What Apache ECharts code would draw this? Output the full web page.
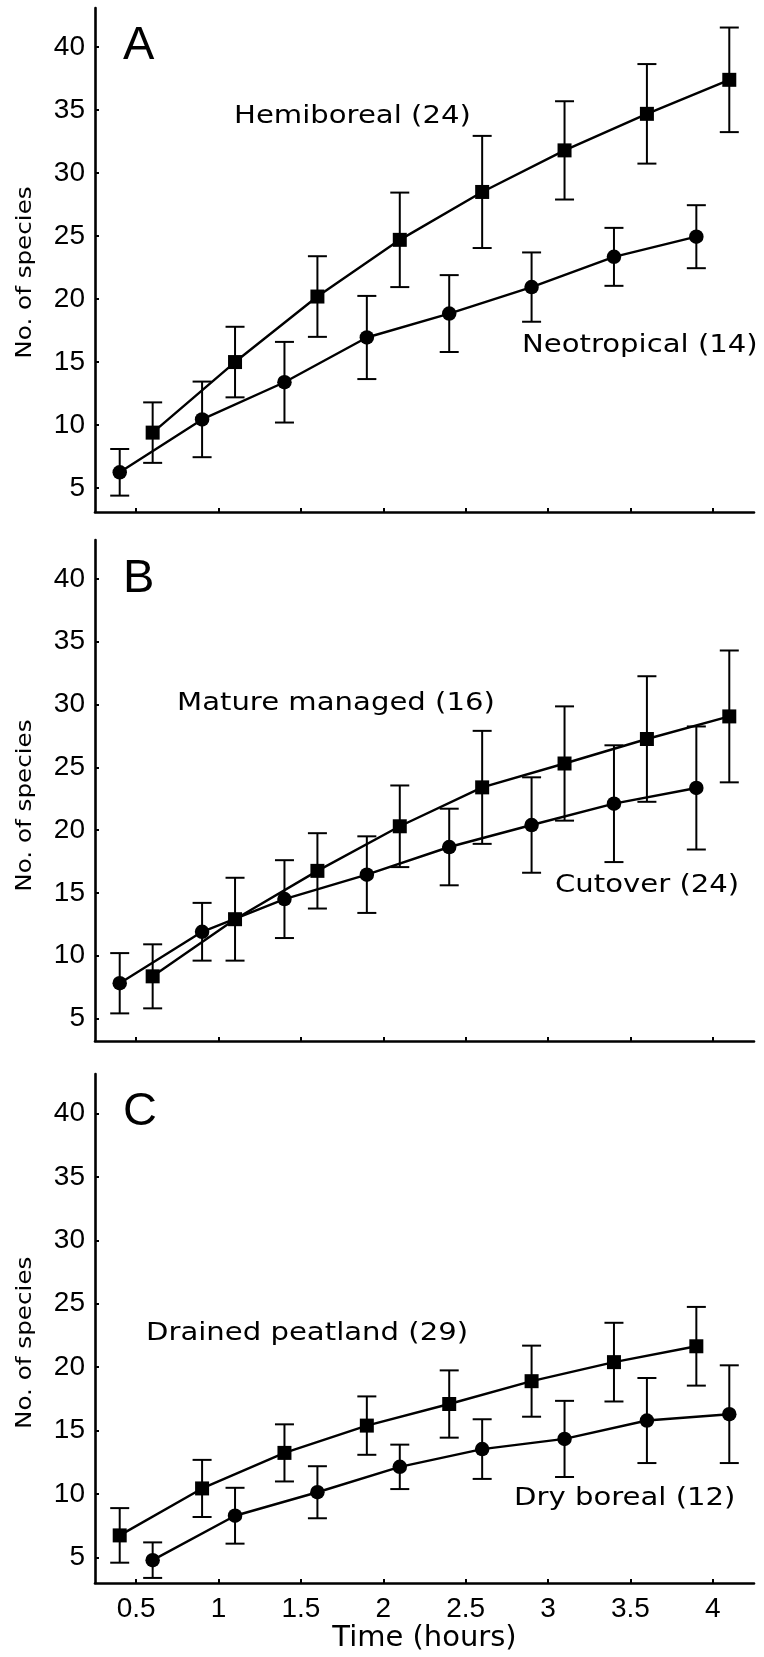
<!DOCTYPE html>
<html><head><meta charset="utf-8">
<script src="https://cdn.jsdelivr.net/npm/echarts@6/dist/echarts.min.js"></script>
<style>html,body{margin:0;padding:0;background:#fff}#c{width:764px;height:1657px}</style>
</head><body><div id="c"></div>
<script>
// ---------- DATA ----------
const xTicks = [0.5, 1, 1.5, 2, 2.5, 3, 3.5, 4];
const yTicks = [5, 10, 15, 20, 25, 30, 35, 40];

// Panel A
const timeHemiboreal = [0.6, 1.1, 1.6, 2.1, 2.6, 3.1, 3.6, 4.1];
const hemiboreal     = [9.4, 15.0, 20.2, 24.7, 28.5, 31.8, 34.7, 37.4];
const hemiborealErr  = [2.4, 2.8, 3.2, 3.75, 4.45, 3.9, 3.95, 4.15];
const timeNeotropical = [0.4, 0.9, 1.4, 1.9, 2.4, 2.9, 3.4, 3.9];
const neotropical     = [6.25, 10.45, 13.4, 16.95, 18.85, 20.95, 23.35, 24.95];
const neotropicalErr  = [1.85, 3.0, 3.2, 3.3, 3.05, 2.75, 2.3, 2.5];

// Panel B
const timeMature = [0.6, 1.1, 1.6, 2.1, 2.6, 3.1, 3.6, 4.1];
const mature     = [8.35, 12.9, 16.75, 20.3, 23.4, 25.3, 27.25, 29.05];
const matureErr  = [2.55, 3.3, 3.0, 3.25, 4.5, 4.55, 5.0, 5.25];
const timeCutover = [0.4, 0.9, 1.4, 1.9, 2.4, 2.9, 3.4, 3.9];
const cutover     = [7.8, 11.9, 14.5, 16.45, 18.65, 20.4, 22.1, 23.35];
const cutoverErr  = [2.4, 2.3, 3.1, 3.05, 3.05, 3.8, 4.65, 4.9];

// Panel C
const timeDrained = [0.4, 0.9, 1.4, 1.9, 2.4, 2.9, 3.4, 3.9];
const drained     = [6.75, 10.45, 13.25, 15.4, 17.1, 18.9, 20.4, 21.65];
const drainedErr  = [2.15, 2.25, 2.25, 2.3, 2.65, 2.8, 3.1, 3.1];
const timeDry = [0.6, 1.1, 1.6, 2.1, 2.6, 3.1, 3.6, 4.1];
const dry     = [4.8, 8.3, 10.15, 12.15, 13.55, 14.35, 15.8, 16.3];
const dryErr  = [1.4, 2.2, 2.05, 1.75, 2.35, 3.0, 3.35, 3.85];

const panelLetters = ['A', 'B', 'C'];
const labelsA = ['Hemiboreal (24)', 'Neotropical (14)'];
const labelsB = ['Mature managed (16)', 'Cutover (24)'];
const labelsC = ['Drained peatland (29)', 'Dry boreal (12)'];
const yName = 'No. of species';
const xName = 'Time (hours)';

// ---------- LAYOUT ----------
const panels = [
  { top: 8, height: 504, yMin: 3.1, letterY: 46.3, nameY: 272.5,
    curves: [
      { t: timeHemiboreal, v: hemiboreal, e: hemiborealErr, symbol: 'rect' },
      { t: timeNeotropical, v: neotropical, e: neotropicalErr, symbol: 'circle' }
    ],
    labels: [ { text: labelsA[0], x: 234, y: 116 }, { text: labelsA[1], x: 522, y: 345 } ] },
  { top: 540, height: 501, yMin: 3.2, letterY: 579, nameY: 805.6,
    curves: [
      { t: timeMature, v: mature, e: matureErr, symbol: 'rect' },
      { t: timeCutover, v: cutover, e: cutoverErr, symbol: 'circle' }
    ],
    labels: [ { text: labelsB[0], x: 177, y: 703 }, { text: labelsB[1], x: 555, y: 885 } ] },
  { top: 1074, height: 509, yMin: 3.0, letterY: 1112.5, nameY: 1342.8,
    curves: [
      { t: timeDrained, v: drained, e: drainedErr, symbol: 'rect' },
      { t: timeDry, v: dry, e: dryErr, symbol: 'circle' }
    ],
    labels: [ { text: labelsC[0], x: 146, y: 1333 }, { text: labelsC[1], x: 514, y: 1498 } ] }
];

const grids = [], xAxes = [], yAxes = [], series = [], graphics = [];
const axisColor = '#000';

panels.forEach((p, i) => {
  grids.push({ left: 95, width: 659, top: p.top, height: p.height });
  xAxes.push({
    type: 'value', gridIndex: i, min: 0.25, max: 4.25,
    axisLine: { show: true, lineStyle: { color: axisColor, width: 2.6 } },
    axisTick: { show: true, inside: true, length: 4, customValues: xTicks, lineStyle: { color: axisColor, width: 2 } },
    axisLabel: { show: i === 2, customValues: xTicks, fontFamily: 'Liberation Sans', fontSize: 28, color: '#000', margin: 12 },
    splitLine: { show: false },
    name: i === 2 ? xName : '', nameLocation: 'middle', nameGap: 38,
    nameTextStyle: { fontFamily: 'DejaVu Sans', fontSize: 29, color: '#000' }
  });
  yAxes.push({
    type: 'value', gridIndex: i, min: p.yMin, max: 43.1,
    axisLine: { show: true, lineStyle: { color: axisColor, width: 2.6 } },
    axisTick: { show: true, inside: true, length: 4, customValues: yTicks, lineStyle: { color: axisColor, width: 2 } },
    axisLabel: { show: true, customValues: yTicks, fontFamily: 'Liberation Sans', fontSize: 28, color: '#000', margin: 10 },
    splitLine: { show: false }
  });
  p.curves.forEach(c => {
    series.push({
      type: 'custom', xAxisIndex: i, yAxisIndex: i, z: 1, silent: true,
      data: c.t.map((t, k) => [t, c.v[k] - c.e[k], c.v[k] + c.e[k]]),
      encode: { x: 0, y: [1, 2] },
      renderItem: (params, api) => {
        const x = api.value(0);
        const lo = api.coord([x, api.value(1)]);
        const hi = api.coord([x, api.value(2)]);
        const w = 9.5;
        const st = { stroke: '#000', lineWidth: 2 };
        return { type: 'group', children: [
          { type: 'line', shape: { x1: hi[0], y1: hi[1], x2: lo[0], y2: lo[1] }, style: st },
          { type: 'line', shape: { x1: hi[0] - w, y1: hi[1], x2: hi[0] + w, y2: hi[1] }, style: st },
          { type: 'line', shape: { x1: lo[0] - w, y1: lo[1], x2: lo[0] + w, y2: lo[1] }, style: st }
        ]};
      }
    });
    series.push({
      type: 'line', xAxisIndex: i, yAxisIndex: i, z: 3,
      data: c.t.map((t, k) => [t, c.v[k]]),
      symbol: c.symbol, symbolSize: c.symbol === 'rect' ? 14 : 14.5,
      itemStyle: { color: '#000' },
      lineStyle: { color: '#000', width: 2.4 }
    });
  });
  // panel letter
  graphics.push({ type: 'text', x: 123, y: p.letterY,
    style: { text: panelLetters[i], fontFamily: 'Liberation Sans', fontSize: 47, fill: '#000',
      align: 'left', textAlign: 'left', verticalAlign: 'middle', textVerticalAlign: 'middle' } });
  // y axis name
  graphics.push({ type: 'text', x: 25, y: p.nameY, rotation: Math.PI / 2, scaleX: 1.12,
    style: { text: yName, fontFamily: 'DejaVu Sans', fontSize: 22, fill: '#000',
      align: 'center', textAlign: 'center', verticalAlign: 'middle', textVerticalAlign: 'middle' } });
  // curve annotations
  p.labels.forEach(l => {
    graphics.push({ type: 'text', x: l.x, y: l.y, scaleX: 1.165,
      style: { text: l.text, fontFamily: 'DejaVu Sans', fontSize: 25, fill: '#000',
        align: 'left', textAlign: 'left', verticalAlign: 'middle', textVerticalAlign: 'middle' } });
  });
});

const chart = echarts.init(document.getElementById('c'), null, { renderer: 'canvas' });
chart.setOption({
  animation: false,
  backgroundColor: '#fff',
  grid: grids, xAxis: xAxes, yAxis: yAxes, series: series,
  graphic: { elements: graphics }
});
</script></body></html>
